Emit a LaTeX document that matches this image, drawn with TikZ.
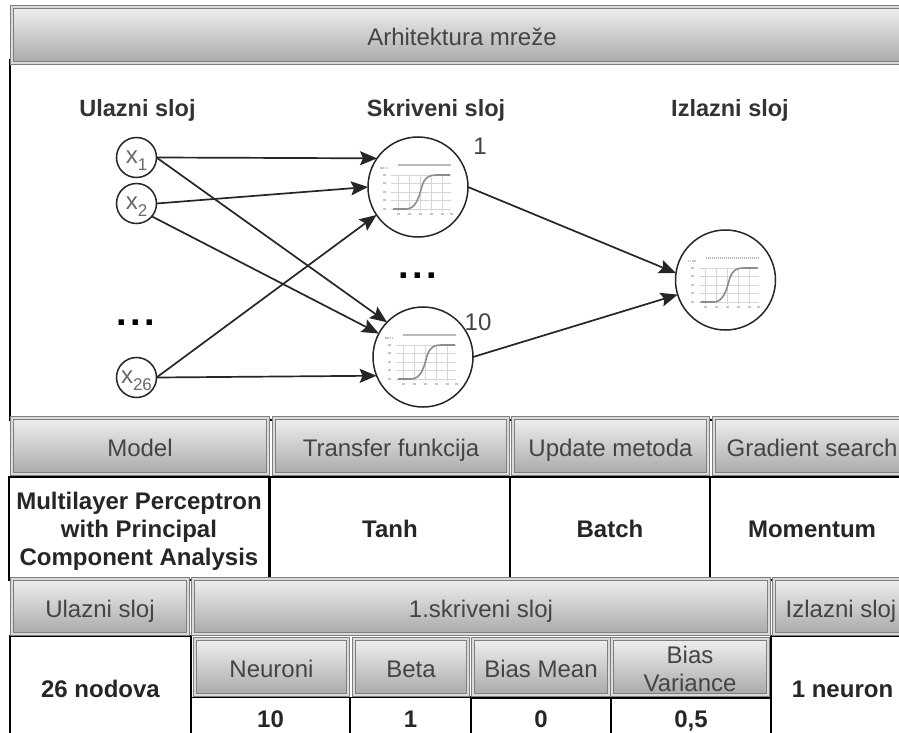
\documentclass[tikz,border=0pt]{standalone}
\usepackage{fontspec}
\setmainfont{Liberation Sans}
\usepackage{tikz}
\usetikzlibrary{arrows.meta}

\definecolor{barTop}{HTML}{EFEFEF}
\definecolor{barBot}{HTML}{A9A9A9}
\definecolor{barEdge}{HTML}{7F7F7F}
\definecolor{labelGray}{HTML}{444444}

\newcommand{\xsub}[1]{x\raisebox{-7pt}{\fontsize{17}{17}\selectfont #1}}

\tikzset{
  sigmoid/.pic={
    \foreach \gx in {-20,-9,2,13,24}
      \draw[gray!32,line width=0.9pt] (\gx,-12) -- (\gx,24);
    \foreach \gy in {-12,-4,5,13,22}
      \draw[gray!32,line width=0.9pt] (-27,\gy) -- (33,\gy);
    \draw[gray!55,line width=1.5pt,dash pattern=on 1.5pt off 0.5pt] (-20,-22) -- (33,-22);
    \draw[gray!45,line width=1.3pt,dash pattern=on 1.5pt off 0.8pt] (-38,-19) -- (-30,-19);
    \foreach \gy in {-12,-4,5,13,22}
      \draw[gray!45,line width=1.2pt] (-35,\gy) -- (-32,\gy);
    \foreach \gx in {-20,-9,2,13,24,33}
      \draw[gray!45,line width=1.2pt] (\gx-1.5,27) -- (\gx+1.5,27);
    \draw[gray!90,line width=1.6pt] (-25,22) -- (-12,22)
      .. controls (-2,22) and (1,10) .. (4,-1)
      .. controls (7,-10) and (11,-12) .. (18,-12) -- (32,-12);
  }
}

\begin{document}
\begin{tikzpicture}[x=1pt,y=-1pt,>={Stealth[length=17pt,width=14pt,inset=3pt]},
  main font/.style={font=\fontsize{24}{28}\selectfont},
  bar/.style={rectangle,draw=barEdge,double=barTop!70!barBot,double distance=1.6pt,line width=1.2pt,
    top color=barTop,bottom color=barBot,inner sep=0pt,outer sep=0pt,
    text=labelGray,align=center,main font,text height=21pt,text depth=0pt},
  cell/.style={rectangle,draw=black,line width=1.8pt,fill=white,inner sep=0pt,outer sep=0pt,
    text=black!85,align=center,font=\bfseries\fontsize{24}{28}\selectfont,text height=17pt,text depth=0pt},
  heavy cell/.style={cell,line width=2.8pt},
  layer label/.style={text=black!80,font=\bfseries\fontsize{23.5}{28}\selectfont},
  input node/.style={circle,draw=black!85,line width=1.5pt,fill=white,minimum size=40pt,inner sep=0pt,
    outer sep=0pt,text=labelGray!80,main font,text height=11pt,text depth=0pt},
  sig node/.style={circle,draw=black!85,line width=1.5pt,fill=white,minimum size=100pt,inner sep=0pt,outer sep=0pt},
  count label/.style={text=labelGray,main font},
  more dots/.style={anchor=base,text=black,font=\bfseries\fontsize{38}{38}\selectfont}]

  \path[use as bounding box,clip] (0,0) rectangle (899,733);

  \node[cell,minimum width=904pt,minimum height=360pt] (panel) at (462,240) {};

  \node[cell,minimum width=260pt,minimum height=103pt,text height=,text depth=] (model val) at (139,528.5)
    {\rule{0pt}{22pt}Multilayer Perceptron\\with Principal\\Component Analysis};
  \node[cell,minimum width=240pt,minimum height=103pt] (transfer val) at (390,528.5) {Tanh};
  \node[cell,minimum width=200pt,minimum height=103pt] (update val) at (610,528.5) {Batch};
  \node[cell,minimum width=204pt,minimum height=103pt] (gradient val) at (812,528.5) {Momentum};

  \node[cell,minimum width=181pt,minimum height=106pt] (ulaz val) at (100.5,689) {26 nodova};
  \node[cell,minimum width=143pt,minimum height=106pt] (izlaz val) at (842.5,689) {1 neuron};
  \node[cell,minimum width=159pt,minimum height=46pt,text height=13pt] (neuroni val) at (270.5,720.5) {10};
  \node[cell,minimum width=121pt,minimum height=46pt,text height=13pt] (beta val) at (410.5,720.5) {1};
  \node[heavy cell,minimum width=140pt,minimum height=46pt,text height=13pt] (mean val) at (541,720.5) {0};
  \node[heavy cell,minimum width=160pt,minimum height=46pt,text height=13pt] (var val) at (691,720.5) {0,5};

  \node[bar,minimum width=900pt,minimum height=56pt] (arhitektura) at (462,35) {Arhitektura mreže};
  \node[bar,minimum width=256pt,minimum height=56.5pt] (model) at (140,446) {Model};
  \node[bar,minimum width=234pt,minimum height=56.5pt] (transfer) at (391,446) {Transfer funkcija};
  \node[bar,minimum width=195pt,minimum height=56.5pt] (update) at (610.5,446) {Update metoda};
  \node[bar,minimum width=196pt,minimum height=56.5pt] (gradient) at (812,446) {Gradient search};
  \node[bar,minimum width=176pt,minimum height=55pt] (ulaz) at (100,606.5) {Ulazni sloj};
  \node[bar,minimum width=576pt,minimum height=55pt] (skriveni) at (481,606.5) {1.skriveni sloj};
  \node[bar,minimum width=134pt,minimum height=55pt] (izlaz) at (841,606.5) {Izlazni sloj};
  \node[bar,minimum width=153pt,minimum height=55.5pt] (neuroni) at (271.5,667) {Neuroni};
  \node[bar,minimum width=114pt,minimum height=55.5pt] (beta) at (411,667) {Beta};
  \node[bar,minimum width=136pt,minimum height=55.5pt] (mean) at (541,667) {Bias Mean};
  \node[bar,minimum width=156pt,minimum height=55.5pt,text height=,text depth=] (var) at (690,667) {\rule{0pt}{21pt}Bias\\Variance};

  \node[layer label] (ulaz label) at (137.5,110) {Ulazni sloj};
  \node[layer label] (skriveni label) at (436,110) {Skriveni sloj};
  \node[layer label] (izlaz label) at (730,110) {Izlazni sloj};

  \node[input node] (x1) at (136.5,157.5) {\xsub{1}};
  \node[input node] (x2) at (136.5,203.5) {\xsub{2}};
  \node[input node] (x26) at (136.5,377.5) {\xsub{26}};
  \node[sig node] (h1) at (418,187) {};
  \node[sig node] (h10) at (423,357) {};
  \node[sig node] (out) at (725.5,280) {};

  \pic at (h1) {sigmoid};
  \pic at (h10) {sigmoid};
  \pic at (out) {sigmoid};

  \node[count label] (one) at (480,146) {1};
  \node[count label] (ten) at (478,322) {10};
  \node[more dots] (dots in) at (136,325) {.\hspace{3.5pt}.\hspace{3.5pt}.};
  \node[more dots] (dots hid) at (418,278) {.\hspace{3.5pt}.\hspace{3.5pt}.};

  \path[->,black!85,line width=1.7pt]
    (x1.east) edge (h1.145)
    (x2.east) edge (h1.180)
    (x26.east) edge (h1.214)
    (x1.east) edge (h10.136)
    (x2.-40) edge (h10.152)
    (x26.east) edge (h10.202)
    (h1.east) edge (out.172)
    (h10.east) edge (out.197);
\end{tikzpicture}
\end{document}
